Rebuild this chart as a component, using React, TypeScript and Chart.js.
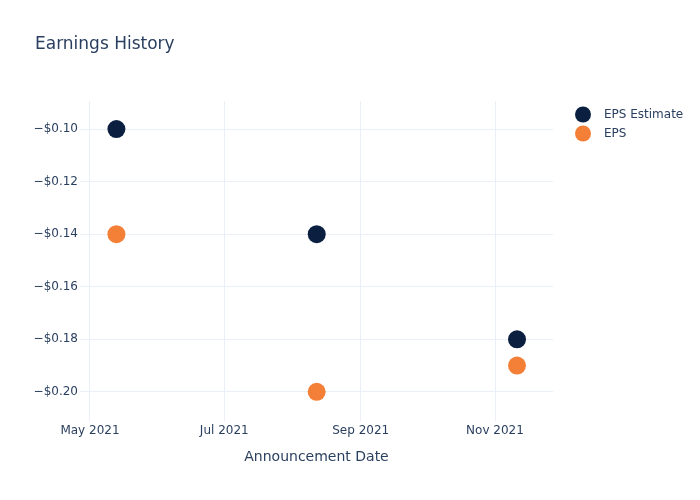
import React, { useEffect, useRef } from "react";
import { Chart, registerables } from "chart.js";

Chart.register(...registerables);

const announcementDates = ["2021-05-13", "2021-08-12", "2021-11-11"];
const epsEstimate = [-0.1, -0.14, -0.18];
const epsActual = [-0.14, -0.2, -0.19];
const yTickValues = [-0.2, -0.18, -0.16, -0.14, -0.12, -0.1];
const xTickDates = ["2021-05-01", "2021-07-01", "2021-09-01", "2021-11-01"];
const monthNames = ["Jan", "Feb", "Mar", "Apr", "May", "Jun", "Jul", "Aug", "Sep", "Oct", "Nov", "Dec"];
const seriesNames = ["EPS Estimate", "EPS"];
const seriesColors = ["#0b1f41", "#f47f36"];
const titleText = "Earnings History";
const xTitle = "Announcement Date";

const DAY = 86400000;
const ts = (s: string) => Date.parse(s + "T00:00:00Z");
const xMin = ts("2021-04-26") + 0.46 * DAY;
const xMax = ts("2021-11-27") + 0.35 * DAY;
const yMin = -0.2111;
const yMax = -0.0893;

const TEXT = "#2a3f5f";
const GRID = "#EBF0F8";
const FONT = "'DejaVu Sans', 'Open Sans', sans-serif";

const fmtMoney = (v: number) => {
  const s = "$" + Math.abs(v).toFixed(2);
  return v < 0 ? "\u2212" + s : s;
};

const fmtMonth = (v: number) => {
  const d = new Date(v);
  return monthNames[d.getUTCMonth()] + " " + d.getUTCFullYear();
};

const overlayPlugin = {
  id: "overlay",
  afterDraw(chart: any) {
    const ctx = chart.ctx;
    ctx.save();
    ctx.fillStyle = TEXT;
    ctx.font = "17px " + FONT;
    ctx.textBaseline = "middle";
    ctx.textAlign = "left";
    ctx.fillText(titleText, 35, 45);
    ctx.font = "12px " + FONT;
    seriesNames.forEach((name, i) => {
      const cy = 114.5 + i * 19;
      ctx.beginPath();
      ctx.arc(583, cy, 8, 0, Math.PI * 2);
      ctx.fillStyle = seriesColors[i];
      ctx.fill();
      ctx.fillStyle = TEXT;
      ctx.fillText(name, 604, cy);
    });
    ctx.restore();
  },
};

export default function App() {
  const ref = useRef<HTMLCanvasElement | null>(null);

  useEffect(() => {
    if (!ref.current) return;
    const chart = new Chart(ref.current, {
      type: "scatter",
      data: {
        datasets: [
          {
            label: seriesNames[0],
            data: announcementDates.map((d, i) => ({ x: ts(d), y: epsEstimate[i] })),
            backgroundColor: seriesColors[0],
            borderColor: seriesColors[0],
            pointRadius: 9,
            pointHoverRadius: 9,
            borderWidth: 0,
          },
          {
            label: seriesNames[1],
            data: announcementDates.map((d, i) => ({ x: ts(d), y: epsActual[i] })),
            backgroundColor: seriesColors[1],
            borderColor: seriesColors[1],
            pointRadius: 9,
            pointHoverRadius: 9,
            borderWidth: 0,
          },
        ],
      },
      options: {
        animation: false,
        responsive: false,
        maintainAspectRatio: false,
        layout: { padding: { left: 0, right: 147, top: 101, bottom: 0 } },
        plugins: {
          legend: { display: false },
          title: { display: false },
          tooltip: { enabled: false },
        },
        scales: {
          x: {
            type: "linear",
            min: xMin,
            max: xMax,
            border: { display: false },
            grid: { color: GRID, drawTicks: false, lineWidth: 1 },
            afterBuildTicks: (scale: any) => {
              scale.ticks = xTickDates.map((d) => ({ value: ts(d) }));
            },
            afterFit: (scale: any) => {
              scale.height = 79;
            },
            ticks: {
              color: TEXT,
              font: { family: FONT, size: 12 },
              padding: 3,
              maxRotation: 0,
              autoSkip: false,
              callback: (v: any) => fmtMonth(Number(v)),
            },
            title: {
              display: true,
              text: xTitle,
              color: TEXT,
              font: { family: FONT, size: 14 },
              padding: { top: 4, bottom: 34 },
            },
          },
          y: {
            type: "linear",
            min: yMin,
            max: yMax,
            border: { display: false },
            grid: { color: GRID, drawTicks: false, lineWidth: 1 },
            afterBuildTicks: (scale: any) => {
              scale.ticks = yTickValues.map((v) => ({ value: v }));
            },
            afterFit: (scale: any) => {
              scale.width = 80;
            },
            ticks: {
              color: TEXT,
              font: { family: FONT, size: 12 },
              padding: 2,
              autoSkip: false,
              callback: (v: any) => fmtMoney(Number(v)),
            },
          },
        },
      } as any,
      plugins: [overlayPlugin],
    });
    return () => chart.destroy();
  }, []);

  return (
    <div style={{ position: "fixed", left: 0, top: 0, width: 700, height: 500, background: "#fff" }}>
      <canvas ref={ref} width={700} height={500} style={{ width: 700, height: 500 }} />
    </div>
  );
}
